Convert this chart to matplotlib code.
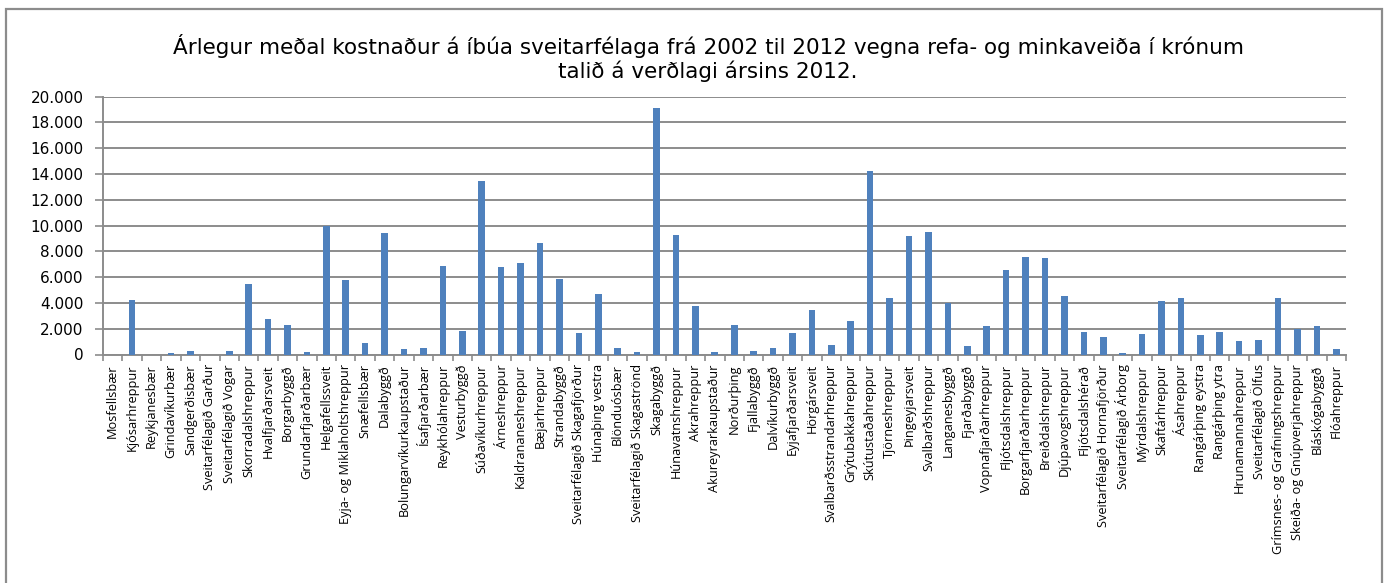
import matplotlib
matplotlib.use("Agg")
import matplotlib.pyplot as plt
from matplotlib.patches import Rectangle
from matplotlib.ticker import FuncFormatter, FixedLocator

TITLE = ("Árlegur meðal kostnaður á íbúa sveitarfélaga frá 2002 til 2012 vegna refa- og minkaveiða í krónum\n"
         "talið á verðlagi ársins 2012.")

municipalities = [
    "Mosfellsbær", "Kjósarhreppur", "Reykjanesbær", "Grindavíkurbær", "Sandgerðisbær",
    "Sveitarfélagið Garður", "Sveitarfélagið Vogar", "Skorradalshreppur", "Hvalfjarðarsveit",
    "Borgarbyggð", "Grundarfjarðarbær", "Helgafellssveit", "Eyja- og Miklaholtshreppur",
    "Snæfellsbær", "Dalabyggð", "Bolungarvíkurkaupstaður", "Ísafjarðarbær", "Reykhólahreppur",
    "Vesturbyggð", "Súðavíkurhreppur", "Árneshreppur", "Kaldrananeshreppur", "Bæjarhreppur",
    "Strandabyggð", "Sveitarfélagið Skagafjörður", "Húnaþing vestra", "Blönduósbær",
    "Sveitarfélagið Skagaströnd", "Skagabyggð", "Húnavatnshreppur", "Akrahreppur",
    "Akureyrarkaupstaður", "Norðurþing", "Fjallabyggð", "Dalvíkurbyggð", "Eyjafjarðarsveit",
    "Hörgársveit", "Svalbarðsstrandarhreppur", "Grýtubakkahreppur", "Skútustaðahreppur",
    "Tjörneshreppur", "Þingeyjarsveit", "Svalbarðshreppur", "Langanesbyggð", "Fjarðabyggð",
    "Vopnafjarðarhreppur", "Fljótsdalshreppur", "Borgarfjarðarhreppur", "Breiðdalshreppur",
    "Djúpavogshreppur", "Fljótsdalshérað", "Sveitarfélagið Hornafjörður", "Sveitarfélagið Árborg",
    "Mýrdalshreppur", "Skaftárhreppur", "Ásahreppur", "Rangárþing eystra", "Rangárþing ytra",
    "Hrunamannahreppur", "Sveitarfélagið Ölfus", "Grímsnes- og Grafningshreppur",
    "Skeiða- og Gnúpverjahreppur", "Bláskógabyggð", "Flóahreppur",
]

cost_per_resident = [
    0, 4250, 0, 130, 280, 0, 310, 5460, 2780, 2290,
    180, 10000, 5770, 880, 9380, 410, 520, 6830, 1830, 13430,
    6750, 7060, 8610, 5820, 1680, 4720, 520, 230, 19120, 9250,
    3740, 210, 2270, 260, 490, 1680, 3480, 700, 2600, 14230,
    4360, 9180, 9460, 3990, 670, 2220, 6570, 7550, 7450, 4560,
    1750, 1370, 80, 1600, 4150, 4380, 1520, 1750, 1060, 1130,
    4360, 1980, 2240, 390,
]

y_ticks = list(range(0, 20001, 2000))

W, H = 1385, 583
fig = plt.figure(figsize=(W / 100, H / 100), dpi=100)
fig.patch.set_facecolor("white")

# outer chart frame
fig.add_artist(Rectangle((6 / W, -0.01), (1382 - 6) / W, 1.01 - 9 / H,
                         transform=fig.transFigure, fill=False,
                         edgecolor="#8c8c8c", linewidth=1.6))

ax = fig.add_axes([103 / W, 1 - 354.5 / H, (1346 - 103) / W, (354.5 - 96.5) / H])

x = range(len(municipalities))
ax.bar(x, cost_per_resident, width=0.34, color="#4f81bd", zorder=3)

ax.set_ylim(0, 20000)
ax.set_xlim(-0.5, len(municipalities) - 0.5)
ax.set_yticks(y_ticks)
ax.yaxis.set_major_formatter(FuncFormatter(lambda v, p: f"{int(v):,}".replace(",", ".")))
ax.grid(axis="y", color="#8c8c8c", linewidth=1.4, zorder=0)

ax.set_xticks(list(x))
ax.set_xticklabels(municipalities, rotation=90, fontsize=9.2, family="Open Sans")
ax.xaxis.set_minor_locator(FixedLocator([i - 0.5 for i in range(len(municipalities) + 1)]))
ax.tick_params(axis="x", which="major", length=0, pad=7)
ax.tick_params(axis="x", which="minor", length=4, width=1.2, color="#8c8c8c")
ax.tick_params(axis="y", length=6, width=1.2, color="#8c8c8c", labelsize=11, pad=8)

for side in ("top", "right"):
    ax.spines[side].set_visible(False)
for side in ("left", "bottom"):
    ax.spines[side].set_color("#8c8c8c")
    ax.spines[side].set_linewidth(1.4)

fig.text(708 / W, 1 - 58 / H, TITLE, ha="center", va="center", fontsize=15.5,
         linespacing=1.12)

fig.savefig("out.png", dpi=100)
